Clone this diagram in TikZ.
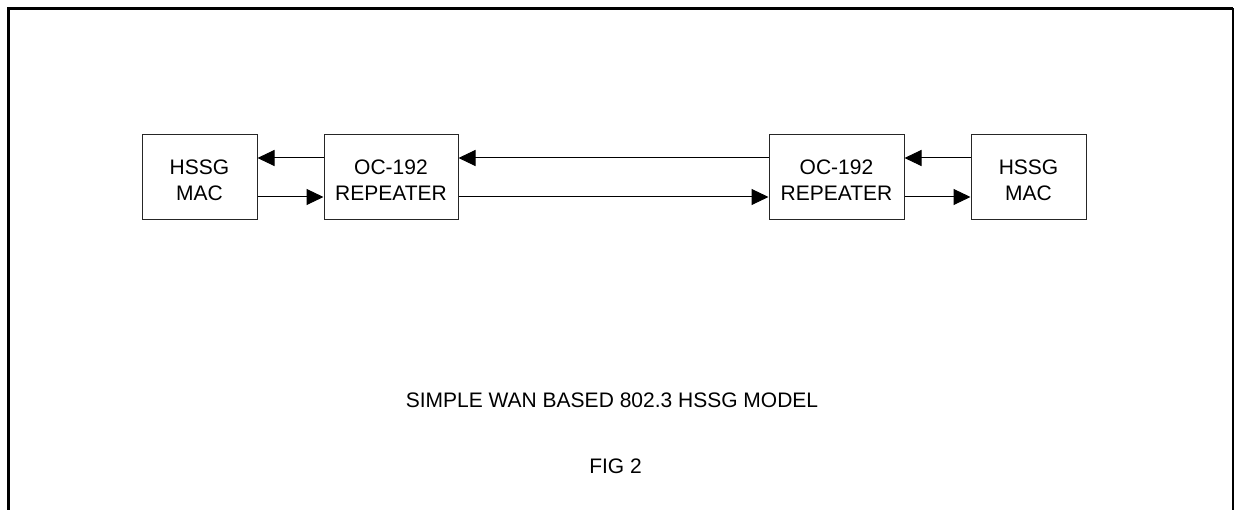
\documentclass[tikz,border=0pt]{standalone}
\usepackage{fontspec}
\setmainfont{Liberation Sans}
\usetikzlibrary{arrows.meta}
\newcommand{\toplift}{\rule{0pt}{20pt}}
\begin{document}
\begin{tikzpicture}[x=1pt,y=-1pt,
  blk/.style={draw=black!85, line width=1pt, minimum height=85pt, align=center,
    font=\fontsize{21}{26}\selectfont, inner sep=0pt},
  conn/.style={line width=1pt, -{Triangle[length=17pt,width=16pt]}},
  captxt/.style={font=\fontsize{21}{26}\selectfont, inner sep=0pt},
  frameline/.style={line width=3.5pt}
]
\useasboundingbox (0,0) rectangle (1235,510);
% frame
\draw[frameline] (8.7,510) -- (8.7,8.5) -- (1233.3,8.5);
\draw[line width=2pt] (1233.3,8.5) -- (1233.3,510);
% blocks
\node[blk, minimum width=115pt] (macL) at (199.5,177.5) {\toplift HSSG\\MAC};
\node[blk, minimum width=134pt] (repL) at (391,177.5) {\toplift OC-192\\REPEATER};
\node[blk, minimum width=135pt] (repR) at (836.5,177.5) {\toplift OC-192\\REPEATER};
\node[blk, minimum width=115pt] (macR) at (1028.5,177.5) {\toplift HSSG\\MAC};
% upper connectors (right to left)
\draw[conn] ([yshift=19.5pt]repL.west) -- ([yshift=19.5pt]macL.east);
\draw[conn] ([yshift=19.5pt]repR.west) -- ([yshift=19.5pt]repL.east);
\draw[conn] ([yshift=19.5pt]macR.west) -- ([yshift=19.5pt]repR.east);
% lower connectors (left to right)
\draw[conn] ([yshift=-19.5pt]macL.east) -- ([yshift=-19.5pt]repL.west);
\draw[conn] ([yshift=-19.5pt]repL.east) -- ([yshift=-19.5pt]repR.west);
\draw[conn] ([yshift=-19.5pt]repR.east) -- ([yshift=-19.5pt]macR.west);
% captions
\node[captxt] (title) at (612,400) {SIMPLE WAN BASED 802.3 HSSG MODEL};
\node[captxt] (fig) at (615.5,466) {FIG 2};
\end{tikzpicture}
\end{document}
